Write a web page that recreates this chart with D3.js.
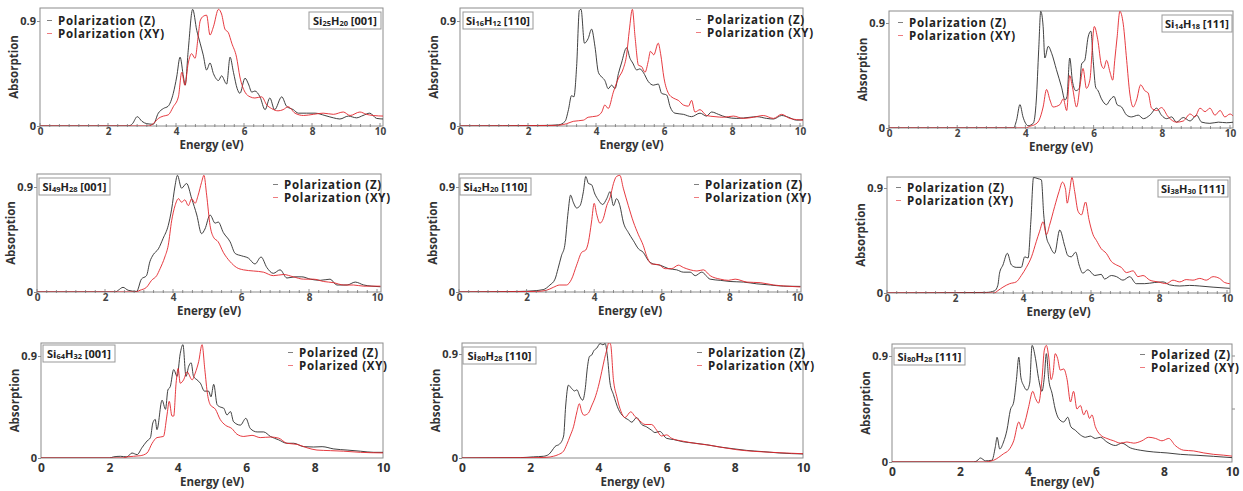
<!DOCTYPE html>
<html>
<head>
<meta charset="utf-8">
<script src="https://cdn.jsdelivr.net/npm/d3@7"></script>
<style>
  body { margin: 0; background: #fff; }
  text { font-family: "Open Sans", sans-serif; }
</style>
</head>
<body>
<svg id="chart" width="1243" height="491"></svg>
<script>
// --- data: [energy (eV), normalised absorption] ---
const energyTicks = [0, 2, 4, 6, 8, 10];
const absTicks = [0, 0.9];
const siCount = [25, 16, 14, 49, 42, 38, 64, 80, 80];
const hCount = [20, 12, 18, 28, 20, 30, 32, 28, 28];
const growthDir = ["001", "110", "111", "001", "110", "111", "001", "110", "111"];
const namesA = ["Polarization (Z)", "Polarization (XY)"];
const namesB = ["Polarized (Z)", "Polarized (XY)"];

const z1 = [[0,0],[2.6,0],[2.72,0.02],[2.86,0.08],[3.0,0.04],[3.14,0.02],[3.33,0.015],[3.48,0.11],[3.63,0.15],[3.77,0.17],[3.92,0.28],[4.02,0.42],[4.12,0.59],[4.22,0.42],[4.27,0.35],[4.36,0.65],[4.49,1.0],[4.61,0.82],[4.71,0.71],[4.8,0.61],[4.9,0.48],[5.0,0.54],[5.1,0.45],[5.25,0.39],[5.34,0.43],[5.49,0.36],[5.59,0.59],[5.69,0.46],[5.8,0.32],[5.88,0.28],[6.03,0.41],[6.13,0.36],[6.23,0.29],[6.32,0.3],[6.47,0.25],[6.62,0.14],[6.76,0.24],[6.9,0.14],[7.11,0.25],[7.25,0.17],[7.45,0.14],[7.6,0.11],[7.84,0.11],[8.09,0.11],[8.38,0.09],[8.63,0.07],[8.82,0.06],[9.07,0.085],[9.31,0.07],[9.5,0.09],[9.7,0.11],[9.9,0.065],[10.1,0.06]];
const xy1 = [[0,0],[3.2,0],[3.33,0.02],[3.48,0.065],[3.63,0.085],[3.77,0.095],[3.92,0.165],[4.07,0.25],[4.17,0.46],[4.26,0.35],[4.36,0.54],[4.46,0.62],[4.56,0.58],[4.66,0.79],[4.71,0.9],[4.8,0.94],[4.9,0.95],[5.0,0.78],[5.1,0.85],[5.25,1.0],[5.34,0.96],[5.44,0.83],[5.54,0.8],[5.64,0.71],[5.78,0.59],[5.88,0.42],[6.03,0.29],[6.18,0.25],[6.32,0.24],[6.52,0.25],[6.67,0.18],[6.81,0.15],[7.0,0.13],[7.15,0.14],[7.3,0.165],[7.5,0.11],[7.75,0.09],[8.04,0.1],[8.33,0.11],[8.63,0.1],[8.92,0.12],[9.12,0.09],[9.41,0.12],[9.6,0.1],[9.8,0.09],[10.1,0.085]];

const z2 = [[0,0],[2.5,0.005],[2.9,0.01],[3.09,0.04],[3.19,0.14],[3.28,0.26],[3.35,0.25],[3.43,0.51],[3.51,0.99],[3.56,1.0],[3.66,0.71],[3.77,0.75],[3.87,0.83],[3.97,0.68],[4.07,0.46],[4.17,0.42],[4.26,0.39],[4.36,0.32],[4.46,0.35],[4.56,0.32],[4.66,0.45],[4.75,0.54],[4.9,0.67],[5.0,0.58],[5.08,0.54],[5.2,0.48],[5.29,0.49],[5.39,0.46],[5.54,0.38],[5.69,0.35],[5.83,0.36],[5.93,0.28],[6.08,0.265],[6.18,0.165],[6.32,0.11],[6.57,0.1],[6.81,0.08],[7.06,0.11],[7.25,0.085],[7.4,0.12],[7.6,0.1],[7.84,0.075],[8.14,0.065],[8.53,0.075],[8.73,0.08],[9.02,0.065],[9.22,0.06],[9.46,0.09],[9.66,0.075],[9.9,0.05],[10.1,0.055]];
const xy2 = [[0,0],[2.8,0.005],[3.14,0.02],[3.33,0.04],[3.63,0.05],[3.77,0.075],[4.02,0.085],[4.17,0.12],[4.26,0.18],[4.36,0.15],[4.51,0.29],[4.66,0.41],[4.8,0.49],[4.9,0.61],[4.98,0.82],[5.07,1.0],[5.15,0.76],[5.25,0.52],[5.34,0.51],[5.44,0.46],[5.54,0.56],[5.6,0.64],[5.7,0.61],[5.83,0.71],[5.9,0.62],[6.0,0.41],[6.13,0.28],[6.27,0.24],[6.42,0.22],[6.57,0.18],[6.72,0.17],[6.81,0.22],[6.91,0.12],[7.06,0.14],[7.25,0.09],[7.5,0.08],[7.75,0.075],[8.04,0.085],[8.33,0.065],[8.63,0.075],[8.92,0.09],[9.22,0.065],[9.46,0.1],[9.7,0.065],[10.1,0.05]];

const z3 = [[0,0],[3.65,0],[3.74,0.066],[3.84,0.2],[3.93,0.095],[4.08,0.02],[4.23,0.04],[4.32,0.24],[4.39,0.67],[4.45,1.0],[4.52,0.87],[4.57,0.6],[4.67,0.7],[4.77,0.64],[4.91,0.5],[5.06,0.35],[5.16,0.24],[5.22,0.27],[5.3,0.6],[5.38,0.4],[5.48,0.32],[5.58,0.34],[5.65,0.55],[5.74,0.58],[5.84,0.78],[5.92,0.83],[5.99,0.57],[6.06,0.35],[6.13,0.32],[6.23,0.25],[6.38,0.2],[6.48,0.24],[6.6,0.27],[6.69,0.2],[6.82,0.18],[6.97,0.11],[7.11,0.095],[7.31,0.11],[7.46,0.08],[7.65,0.11],[7.85,0.17],[7.99,0.11],[8.14,0.08],[8.29,0.095],[8.43,0.05],[8.63,0.09],[8.83,0.06],[9.02,0.11],[9.17,0.05],[9.41,0.04],[9.66,0.05],[9.9,0.045],[10.1,0.05]];
const xy3 = [[0,0],[4.0,0],[4.13,0.015],[4.28,0.03],[4.4,0.066],[4.52,0.18],[4.62,0.33],[4.72,0.24],[4.81,0.18],[5.01,0.2],[5.11,0.25],[5.21,0.15],[5.3,0.45],[5.38,0.35],[5.5,0.18],[5.62,0.4],[5.69,0.51],[5.79,0.34],[5.89,0.41],[6.02,0.87],[6.12,0.76],[6.23,0.54],[6.3,0.51],[6.38,0.58],[6.48,0.48],[6.56,0.41],[6.62,0.58],[6.69,0.78],[6.77,1.0],[6.87,0.89],[6.97,0.58],[7.06,0.3],[7.16,0.18],[7.26,0.24],[7.38,0.37],[7.5,0.32],[7.6,0.3],[7.7,0.17],[7.85,0.15],[7.99,0.175],[8.19,0.095],[8.43,0.05],[8.63,0.06],[8.83,0.12],[8.97,0.095],[9.12,0.17],[9.27,0.14],[9.41,0.17],[9.56,0.11],[9.71,0.15],[9.85,0.095],[10.0,0.12],[10.1,0.1]];

const z4 = [[0,0],[2.3,0],[2.39,0.015],[2.53,0.04],[2.68,0.015],[2.93,0.005],[3.07,0.11],[3.22,0.14],[3.32,0.26],[3.42,0.32],[3.57,0.37],[3.71,0.46],[3.86,0.57],[3.96,0.71],[4.06,0.91],[4.13,1.0],[4.25,0.89],[4.4,0.93],[4.55,0.8],[4.7,0.66],[4.84,0.5],[4.94,0.54],[5.09,0.66],[5.24,0.59],[5.33,0.6],[5.48,0.51],[5.68,0.43],[5.83,0.33],[6.02,0.31],[6.22,0.29],[6.41,0.24],[6.59,0.3],[6.76,0.21],[6.95,0.16],[7.15,0.19],[7.35,0.12],[7.59,0.13],[7.79,0.13],[8.04,0.11],[8.33,0.1],[8.62,0.11],[8.82,0.06],[9.12,0.06],[9.36,0.085],[9.61,0.06],[9.85,0.05],[10.1,0.045]];
const xy4 = [[0,0],[2.9,0],[3.03,0.015],[3.22,0.04],[3.37,0.1],[3.52,0.14],[3.62,0.2],[3.76,0.3],[3.86,0.4],[3.96,0.61],[4.06,0.74],[4.16,0.8],[4.25,0.77],[4.35,0.79],[4.45,0.74],[4.55,0.8],[4.65,0.76],[4.74,0.83],[4.84,0.94],[4.91,1.0],[4.99,0.83],[5.09,0.57],[5.19,0.47],[5.33,0.43],[5.48,0.34],[5.68,0.26],[5.87,0.21],[6.07,0.19],[6.37,0.18],[6.66,0.17],[6.95,0.14],[7.25,0.15],[7.54,0.13],[7.84,0.11],[8.13,0.11],[8.43,0.09],[8.72,0.08],[9.02,0.06],[9.31,0.06],[9.61,0.05],[10.1,0.05]];

const z5 = [[0,0],[1.8,0.005],[2.19,0.01],[2.49,0.02],[2.69,0.06],[2.84,0.11],[2.93,0.2],[3.03,0.31],[3.13,0.4],[3.23,0.69],[3.3,0.83],[3.38,0.77],[3.48,0.72],[3.58,0.74],[3.68,0.86],[3.75,0.99],[3.83,0.93],[3.92,0.92],[4.02,0.84],[4.12,0.79],[4.25,0.75],[4.37,0.8],[4.47,0.86],[4.57,0.74],[4.66,0.8],[4.76,0.74],[4.86,0.6],[5.01,0.51],[5.16,0.44],[5.31,0.37],[5.45,0.34],[5.6,0.27],[5.75,0.24],[5.95,0.23],[6.2,0.2],[6.44,0.19],[6.64,0.17],[6.84,0.17],[6.99,0.14],[7.18,0.17],[7.43,0.11],[7.73,0.1],[8.02,0.09],[8.42,0.085],[8.81,0.07],[9.21,0.06],[9.6,0.05],[10.1,0.048]];
const xy5 = [[0,0],[2.3,0.005],[2.59,0.015],[2.79,0.04],[2.98,0.06],[3.18,0.06],[3.33,0.11],[3.48,0.23],[3.63,0.34],[3.75,0.36],[3.83,0.43],[3.92,0.6],[4.0,0.76],[4.07,0.67],[4.17,0.59],[4.27,0.63],[4.37,0.74],[4.47,0.81],[4.57,0.93],[4.66,0.99],[4.76,1.0],[4.86,0.89],[5.01,0.74],[5.16,0.6],[5.31,0.49],[5.45,0.4],[5.55,0.31],[5.7,0.24],[5.9,0.235],[6.1,0.2],[6.29,0.2],[6.49,0.23],[6.64,0.21],[6.84,0.19],[7.04,0.18],[7.23,0.19],[7.43,0.14],[7.73,0.11],[7.97,0.1],[8.17,0.11],[8.52,0.085],[8.91,0.08],[9.31,0.06],[9.7,0.05],[10.1,0.043]];

const z6 = [[0,0],[2.92,0.005],[3.17,0.02],[3.26,0.066],[3.31,0.17],[3.41,0.24],[3.54,0.34],[3.66,0.24],[3.8,0.22],[3.95,0.22],[4.05,0.31],[4.15,0.3],[4.23,0.61],[4.31,0.99],[4.44,0.98],[4.54,0.97],[4.61,0.67],[4.69,0.48],[4.78,0.41],[4.93,0.34],[5.08,0.54],[5.23,0.4],[5.32,0.32],[5.42,0.31],[5.55,0.35],[5.65,0.24],[5.76,0.17],[5.91,0.2],[6.11,0.15],[6.3,0.16],[6.4,0.12],[6.6,0.15],[6.75,0.14],[6.94,0.11],[7.14,0.14],[7.33,0.08],[7.58,0.08],[7.87,0.09],[8.12,0.095],[8.31,0.07],[8.61,0.06],[8.9,0.065],[9.2,0.06],[9.59,0.05],[10.08,0.04]];
const xy6 = [[0,0],[3.15,0],[3.26,0.02],[3.41,0.05],[3.61,0.08],[3.8,0.095],[3.95,0.15],[4.1,0.22],[4.25,0.31],[4.39,0.44],[4.49,0.53],[4.59,0.61],[4.69,0.5],[4.78,0.58],[4.93,0.74],[5.06,0.87],[5.16,0.95],[5.25,0.89],[5.3,0.77],[5.37,0.87],[5.44,0.99],[5.52,0.87],[5.62,0.7],[5.72,0.67],[5.84,0.78],[5.94,0.63],[6.06,0.5],[6.16,0.45],[6.3,0.38],[6.45,0.34],[6.6,0.27],[6.75,0.24],[6.89,0.22],[7.04,0.175],[7.24,0.19],[7.38,0.14],[7.53,0.15],[7.73,0.11],[7.97,0.095],[8.22,0.08],[8.41,0.11],[8.61,0.095],[8.8,0.115],[9.0,0.11],[9.2,0.125],[9.39,0.11],[9.59,0.14],[9.78,0.125],[9.93,0.09],[10.08,0.08]];

const z7 = [[0,0],[2.0,0],[2.12,0.01],[2.32,0.015],[2.51,0.01],[2.66,0.044],[2.81,0.03],[2.95,0.09],[3.1,0.15],[3.2,0.18],[3.27,0.31],[3.34,0.34],[3.39,0.25],[3.54,0.51],[3.64,0.43],[3.71,0.6],[3.78,0.63],[3.88,0.78],[3.98,0.72],[4.07,0.92],[4.15,1.0],[4.24,0.72],[4.32,0.81],[4.39,0.84],[4.46,0.72],[4.56,0.69],[4.66,0.66],[4.78,0.59],[4.9,0.59],[4.97,0.54],[5.05,0.65],[5.15,0.47],[5.24,0.45],[5.34,0.44],[5.44,0.38],[5.54,0.41],[5.63,0.32],[5.83,0.29],[5.99,0.35],[6.12,0.26],[6.32,0.23],[6.51,0.23],[6.71,0.19],[6.95,0.16],[7.19,0.13],[7.39,0.13],[7.68,0.1],[7.97,0.097],[8.22,0.1],[8.56,0.08],[8.95,0.07],[9.34,0.06],[9.73,0.05],[10,0.05]];
const xy7 = [[0,0],[2.4,0],[2.51,0.01],[2.9,0.02],[3.1,0.044],[3.25,0.13],[3.39,0.18],[3.58,0.19],[3.68,0.37],[3.75,0.5],[3.83,0.37],[3.88,0.37],[3.95,0.66],[4.01,0.79],[4.07,0.66],[4.17,0.69],[4.27,0.76],[4.42,0.69],[4.51,0.75],[4.61,0.85],[4.71,1.0],[4.79,0.78],[4.87,0.56],[4.95,0.47],[5.1,0.43],[5.24,0.34],[5.39,0.29],[5.58,0.26],[5.73,0.21],[5.93,0.19],[6.17,0.2],[6.41,0.18],[6.71,0.185],[6.95,0.175],[7.19,0.13],[7.49,0.12],[7.78,0.09],[8.07,0.07],[8.46,0.065],[8.85,0.06],[9.34,0.05],[10,0.045]];

const z8 = [[0,0],[1.71,0.003],[2.1,0.01],[2.39,0.015],[2.54,0.03],[2.63,0.06],[2.73,0.1],[2.86,0.12],[2.98,0.19],[3.04,0.45],[3.12,0.63],[3.22,0.6],[3.3,0.58],[3.37,0.59],[3.46,0.53],[3.54,0.5],[3.61,0.59],[3.68,0.79],[3.74,0.88],[3.8,0.89],[3.87,0.93],[3.95,0.95],[4.05,0.99],[4.13,0.98],[4.2,0.99],[4.26,0.89],[4.34,0.65],[4.44,0.55],[4.59,0.42],[4.73,0.36],[4.88,0.33],[4.98,0.31],[5.12,0.35],[5.27,0.29],[5.41,0.27],[5.56,0.24],[5.66,0.22],[5.8,0.23],[6.0,0.17],[6.2,0.16],[6.49,0.14],[6.78,0.13],[7.17,0.115],[7.56,0.095],[7.95,0.08],[8.34,0.066],[8.83,0.055],[9.32,0.043],[10,0.035]];
const xy8 = [[0,0],[2.2,0.003],[2.49,0.006],[2.68,0.015],[2.83,0.03],[2.98,0.06],[3.07,0.115],[3.17,0.19],[3.27,0.27],[3.37,0.4],[3.44,0.47],[3.51,0.4],[3.58,0.37],[3.71,0.39],[3.8,0.45],[3.9,0.52],[4.0,0.62],[4.1,0.75],[4.18,0.86],[4.24,0.93],[4.31,1.0],[4.36,0.98],[4.44,0.68],[4.54,0.53],[4.63,0.43],[4.78,0.35],[4.95,0.4],[5.07,0.36],[5.22,0.32],[5.37,0.29],[5.56,0.29],[5.71,0.24],[5.85,0.19],[6.0,0.2],[6.15,0.17],[6.49,0.145],[6.88,0.125],[7.27,0.11],[7.66,0.09],[8.05,0.072],[8.54,0.058],[9.02,0.05],[9.51,0.043],[10,0.037]];

const z9 = [[0,0],[2.4,0],[2.5,0.01],[2.6,0.034],[2.75,0.01],[2.94,0.015],[3.04,0.13],[3.09,0.21],[3.17,0.11],[3.28,0.17],[3.38,0.27],[3.48,0.44],[3.58,0.51],[3.66,0.7],[3.73,0.89],[3.79,0.72],[3.87,0.65],[3.97,0.61],[4.05,0.67],[4.12,0.99],[4.22,0.88],[4.31,0.71],[4.41,0.6],[4.48,0.72],[4.54,0.92],[4.61,0.7],[4.71,0.58],[4.8,0.45],[4.9,0.37],[5.05,0.34],[5.17,0.38],[5.26,0.3],[5.39,0.27],[5.54,0.23],[5.69,0.21],[5.83,0.22],[5.98,0.2],[6.13,0.21],[6.32,0.17],[6.57,0.14],[6.76,0.16],[7.01,0.12],[7.3,0.1],[7.7,0.085],[8.09,0.077],[8.48,0.065],[8.97,0.057],[9.46,0.048],[10,0.037]];
const xy9 = [[0,0],[2.7,0],[2.99,0.015],[3.14,0.04],[3.28,0.07],[3.43,0.1],[3.58,0.18],[3.73,0.34],[3.82,0.28],[3.92,0.35],[4.02,0.47],[4.14,0.6],[4.22,0.54],[4.31,0.5],[4.41,0.7],[4.48,0.95],[4.54,0.99],[4.61,0.89],[4.68,0.7],[4.74,0.76],[4.8,0.92],[4.87,0.88],[4.95,0.78],[5.05,0.79],[5.15,0.7],[5.25,0.51],[5.34,0.6],[5.44,0.45],[5.54,0.48],[5.64,0.4],[5.72,0.44],[5.81,0.37],[5.88,0.4],[5.98,0.3],[6.13,0.23],[6.32,0.2],[6.52,0.18],[6.72,0.16],[6.91,0.17],[7.11,0.16],[7.35,0.18],[7.55,0.21],[7.75,0.2],[7.94,0.18],[8.14,0.2],[8.33,0.14],[8.58,0.1],[8.87,0.094],[9.17,0.077],[9.46,0.065],[9.75,0.058],[10,0.05]];

const zSeries = [z1, z2, z3, z4, z5, z6, z7, z8, z9];
const xySeries = [xy1, xy2, xy3, xy4, xy5, xy6, xy7, xy8, xy9];

// --- layout of each small panel (pixels) ---
const layout = [
  {x0: 40,  x10: 380,  right: 383,  top: 8,   bottom: 126, y09: 21,  row: 1, leg: [47, 25],   box: [309, 12, 72, 17]},
  {x0: 460, x10: 800,  right: 803,  top: 8,   bottom: 126, y09: 21,  row: 1, leg: [696, 24],  box: [463, 12, 70, 17]},
  {x0: 889, x10: 1230, right: 1233, top: 11,  bottom: 128, y09: 23,  row: 1, leg: [898, 27],  box: [1162, 15, 70, 17]},
  {x0: 37,  x10: 377,  right: 381,  top: 174, bottom: 292, y09: 187, row: 2, leg: [273, 189], box: [39, 178, 71, 17]},
  {x0: 459, x10: 797,  right: 801,  top: 174, bottom: 292, y09: 187, row: 2, leg: [694, 189], box: [460, 178, 71, 17]},
  {x0: 887, x10: 1227, right: 1230, top: 177, bottom: 293, y09: 188, row: 2, leg: [896, 192], box: [1158, 180, 70, 17]},
  {x0: 41,  x10: 383,  right: 383,  top: 343, bottom: 458, y09: 356, row: 3, leg: [288, 357], box: [43, 345, 72, 17], names: namesB},
  {x0: 462, x10: 803,  right: 803,  top: 343, bottom: 458, y09: 354, row: 3, leg: [697, 357], box: [463, 347, 73, 17]},
  {x0: 892, x10: 1232, right: 1232, top: 344, bottom: 462, y09: 356, row: 3, leg: [1140, 359], box: [894, 348, 71, 17], names: namesB, rightTicks: true}
];

const colorZ = "#2b2b2b";
const colorXY = "#e3252b";
const frameColor = "#8c8c8c";
const textColor = "#333";

const svg = d3.select("#chart");

layout.forEach((p, i) => {
  const g = svg.append("g");
  const x = d3.scaleLinear().domain([0, 10]).range([p.x0, p.x10]);
  const y = d3.scaleLinear().domain([0, 0.9]).range([p.bottom, p.y09]);
  const small = p.row < 3;

  const clipId = "clip" + i;
  g.append("clipPath").attr("id", clipId)
    .append("rect")
    .attr("x", p.x0).attr("y", p.top)
    .attr("width", p.right - p.x0).attr("height", p.bottom - p.top);

  // frame
  g.append("rect")
    .attr("x", p.x0).attr("y", p.top)
    .attr("width", p.right - p.x0).attr("height", p.bottom - p.top)
    .attr("fill", "none").attr("stroke", frameColor).attr("stroke-width", 1);

  // curves
  const line = d3.line().x(d => x(d[0])).y(d => y(d[1])).curve(d3.curveMonotoneX);
  const curves = g.append("g").attr("clip-path", `url(#${clipId})`);
  curves.append("path").datum(zSeries[i])
    .attr("d", line).attr("fill", "none").attr("stroke", colorZ).attr("stroke-width", 0.9);
  curves.append("path").datum(xySeries[i])
    .attr("d", line).attr("fill", "none").attr("stroke", colorXY).attr("stroke-width", 0.9);

  // x axis
  const xAxis = g.append("g")
    .attr("transform", `translate(0,${p.bottom})`)
    .call(d3.axisBottom(x).tickValues(energyTicks).tickSize(0).tickPadding(small ? 2 : 5));
  xAxis.select(".domain").remove();
  xAxis.selectAll("text")
    .attr("font-size", small ? 10 : 12).attr("font-weight", "bold")
    .attr("fill", small ? "#444" : textColor);

  if (small) {
    // minor ticks sitting on the axis (6 between labelled ones)
    const minor = d3.range(0, 10, 2).flatMap(k => d3.range(1, 7).map(j => k + j * 2 / 7));
    g.append("g").selectAll("line")
      .data(minor.concat(energyTicks))
      .join("line")
      .attr("x1", d => x(d)).attr("x2", d => x(d))
      .attr("y1", d => energyTicks.includes(d) ? p.bottom - 3 : p.bottom - 2)
      .attr("y2", p.bottom + 1)
      .attr("stroke", "#777").attr("stroke-width", 0.8);
  }

  // y axis
  const yAxis = g.append("g")
    .attr("transform", `translate(${p.x0},0)`)
    .call(d3.axisLeft(y).tickValues(absTicks).tickFormat(d => d === 0 ? "0" : "0.9").tickSize(3).tickPadding(1));
  yAxis.select(".domain").remove();
  yAxis.selectAll("line").attr("stroke", frameColor);
  yAxis.selectAll("text")
    .attr("font-size", 11).attr("font-weight", "bold").attr("fill", textColor);

  if (p.rightTicks) {
    g.append("g").selectAll("line")
      .data([0.45, 0.9]).join("line")
      .attr("x1", p.right).attr("x2", p.right + 3)
      .attr("y1", d => y(d)).attr("y2", d => y(d))
      .attr("stroke", frameColor);
  }

  // axis titles
  g.append("text")
    .attr("x", (p.x0 + p.right) / 2)
    .attr("y", small ? p.bottom + 23 : 486)
    .attr("text-anchor", "middle")
    .attr("font-size", 11.5).attr("font-weight", "bold").attr("fill", textColor)
    .text("Energy (eV)");

  g.append("text")
    .attr("transform", `translate(${p.x0 - 22},${(p.top + p.bottom) / 2}) rotate(-90)`)
    .attr("text-anchor", "middle")
    .attr("font-size", 11.5).attr("font-weight", "bold").attr("fill", textColor)
    .text("Absorption");

  // legend
  const names = p.names || namesA;
  [colorZ, colorXY].forEach((c, k) => {
    const ly = p.leg[1] + k * 13;
    g.append("line")
      .attr("x1", p.leg[0]).attr("x2", p.leg[0] + 5)
      .attr("y1", ly - 4.5).attr("y2", ly - 4.5)
      .attr("stroke", c).attr("stroke-width", 1).attr("opacity", 0.6);
    g.append("text")
      .attr("x", p.leg[0] + 11).attr("y", ly)
      .attr("font-size", 11.5).attr("letter-spacing", 0.7)
      .attr("font-weight", "bold").attr("fill", "#222")
      .text(names[k]);
  });

  // cluster label box
  const [bx, by, bw, bh] = p.box;
  g.append("rect")
    .attr("x", bx).attr("y", by).attr("width", bw).attr("height", bh)
    .attr("fill", "#fff").attr("stroke", "#999").attr("stroke-width", 1);
  const t = g.append("text")
    .attr("x", bx + bw / 2).attr("y", by + bh - 4.5)
    .attr("text-anchor", "middle")
    .attr("font-size", 11).attr("font-weight", "bold").attr("fill", "#222");
  t.append("tspan").text("Si");
  t.append("tspan").attr("font-size", 7.5).attr("dy", 1).text(siCount[i]);
  t.append("tspan").attr("dy", -1).text("H");
  t.append("tspan").attr("font-size", 7.5).attr("dy", 1).text(hCount[i]);
  t.append("tspan").attr("dy", -1).text(` [${growthDir[i]}]`);
});
</script>
</body>
</html>
